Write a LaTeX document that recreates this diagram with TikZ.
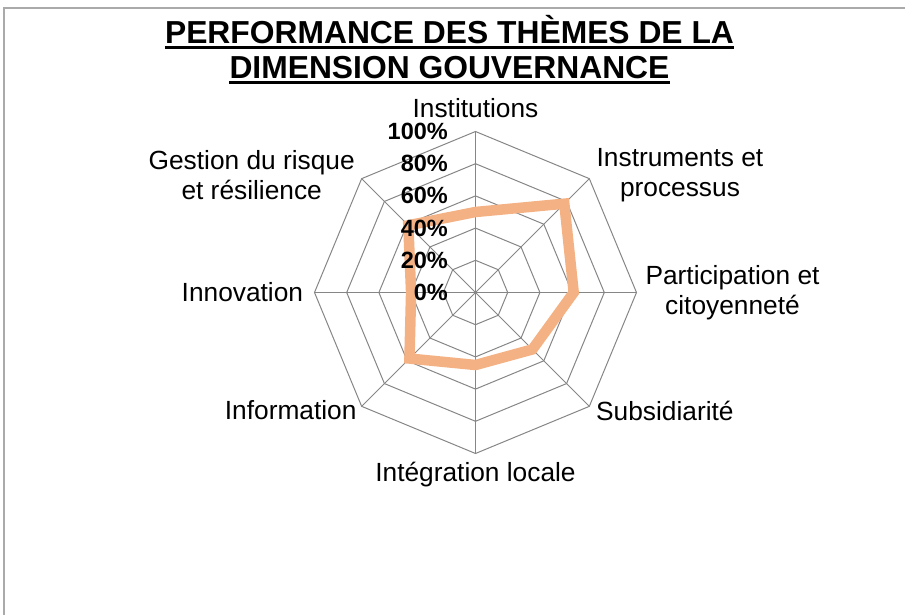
\documentclass[tikz,border=0pt]{standalone}
\usepackage{fontspec}
\setmainfont{Liberation Sans}
\definecolor{gridgray}{RGB}{134,134,134}
\definecolor{framegray}{RGB}{170,170,170}
\definecolor{peach}{RGB}{244,177,131}

\begin{document}
\begin{tikzpicture}[x=1pt, y=1pt,
		gridline/.style={draw=gridgray, line width=1pt},
		datapoly/.style={draw=peach, line width=10.5pt},
		pctlabel/.style={anchor=east, inner sep=0pt, font=\fontsize{23.5}{26}\selectfont\bfseries},
		catlabel/.style={inner sep=0pt, align=center, font=\fontsize{26.3}{29.5}\selectfont},
		titleline/.style={inner sep=0pt, font=\fontsize{31.8}{34}\selectfont\bfseries}]
		\useasboundingbox (-475.5,-322.5) rectangle (429.5,292.5);
		
		\draw[framegray, line width=1.5pt] (-471.5,-322.5) -- (-471.5,284.5) -- (429.5,284.5);
		
		\node[titleline, anchor=base] (title1) at (-26,248.5) {PERFORMANCE DES THÈMES DE LA};
		\node[titleline, anchor=base] (title2) at (-26,213.5) {DIMENSION GOUVERNANCE};
		\draw[line width=2.5pt] ([yshift=-3.5pt]title1.base west) -- ([yshift=-3.5pt]title1.base east);
		\draw[line width=2.5pt] ([yshift=-3.5pt]title2.base west) -- ([yshift=-3.5pt]title2.base east);
		
		\draw[gridline] (0:32.2) -- (45:32.2) -- (90:32.2) -- (135:32.2) -- (180:32.2) -- (225:32.2) -- (270:32.2) -- (315:32.2) -- cycle;
		\draw[gridline] (0:64.4) -- (45:64.4) -- (90:64.4) -- (135:64.4) -- (180:64.4) -- (225:64.4) -- (270:64.4) -- (315:64.4) -- cycle;
		\draw[gridline] (0:96.6) -- (45:96.6) -- (90:96.6) -- (135:96.6) -- (180:96.6) -- (225:96.6) -- (270:96.6) -- (315:96.6) -- cycle;
		\draw[gridline] (0:128.8) -- (45:128.8) -- (90:128.8) -- (135:128.8) -- (180:128.8) -- (225:128.8) -- (270:128.8) -- (315:128.8) -- cycle;
		\draw[gridline] (0:161) -- (45:161) -- (90:161) -- (135:161) -- (180:161) -- (225:161) -- (270:161) -- (315:161) -- cycle;
		
		\coordinate (center) at (0,0);
		\draw[gridline] (center) -- (90:161);
		\draw[gridline] (center) -- (45:161);
		\draw[gridline] (center) -- (0:161);
		\draw[gridline] (center) -- (-45:161);
		\draw[gridline] (center) -- (-90:161);
		\draw[gridline] (center) -- (-135:161);
		\draw[gridline] (center) -- (180:161);
		\draw[gridline] (center) -- (135:161);
		
		\draw[datapoly] (90:80.5) -- (45:125.6) -- (0:98.2) -- (-45:80.5) -- (-90:72.5) -- (-135:93.4) -- (180:64.4) -- (135:95) -- cycle;
		
		\node[pctlabel] (p0) at (-27.5,0) {0\%};
		\node[pctlabel] (p20) at (-27.5,32.2) {20\%};
		\node[pctlabel] (p40) at (-27.5,64.4) {40\%};
		\node[pctlabel] (p60) at (-27.5,96.6) {60\%};
		\node[pctlabel] (p80) at (-27.5,128.8) {80\%};
		\node[pctlabel] (p100) at (-27.5,161) {100\%};
		
		\node[catlabel] (institutions) at (0,184.5) {Institutions};
		\node[catlabel] (instruments) at (204.5,117.5) {Instruments et\\processus};
		\node[catlabel] (participation) at (257,0) {Participation et\\citoyenneté};
		\node[catlabel, anchor=west] (subsidiarite) at (120.5,-118) {Subsidiarité};
		\node[catlabel] (integration) at (0,-182.5) {Intégration locale};
		\node[catlabel, anchor=east] (information) at (-118.8,-118) {Information};
		\node[catlabel, anchor=east] (innovation) at (-172.2,0) {Innovation};
		\node[catlabel] (gestion) at (-223.8,117.5) {Gestion du risque\\et résilience};
	\end{tikzpicture}
\end{document}
